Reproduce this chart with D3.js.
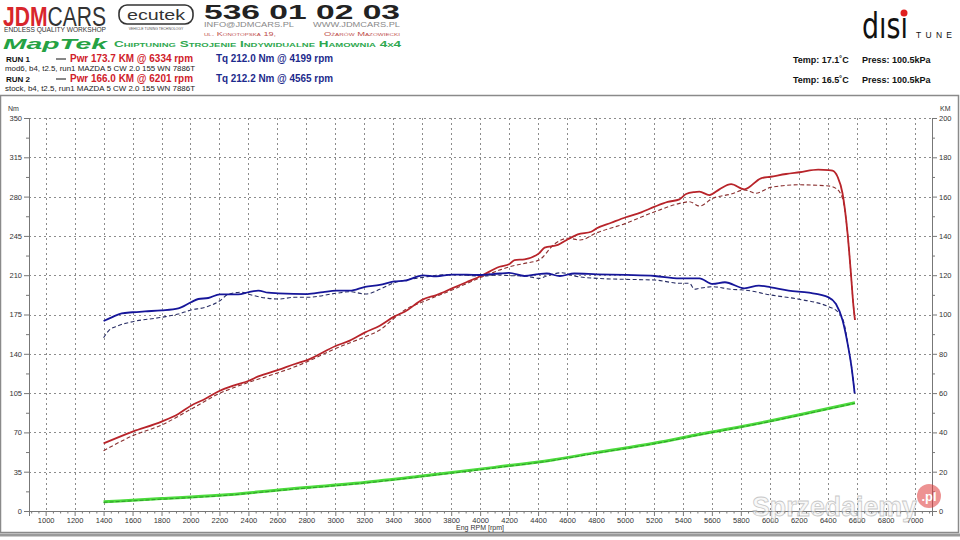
<!DOCTYPE html>
<html>
<head>
<meta charset="utf-8">
<script src="https://cdn.jsdelivr.net/npm/d3@7"></script>
<style>
  body { margin: 0; background: #fff; }
  svg { display: block; font-family: "Liberation Sans", Arial, sans-serif; }
</style>
</head>
<body>
<svg id="chart_svg" width="960" height="540"></svg>
<script>
// dyno data, [rpm, value]
var run1Tq = [[1400,169.2],[1456,172.5],[1525,176],[1600,177],[1686,177.8],[1800,178.7],[1916,180.5],[2003,185.9],
  [2054,188.8],[2123,189.7],[2203,193],[2330,193],[2403,195],[2468,196.2],[2537,194.4],[2606,193.9],[2806,193.2],
  [2916,195],[3006,196.2],[3100,196.2],[3206,199.7],[3307,201.3],[3406,204.5],[3479,205.1],[3606,209.9],[3698,209],
  [3806,210.5],[3905,210.5],[4006,210.2],[4134,211.5],[4199,212.0],[4307,209.3],[4406,211],[4460,211.5],[4550,209.3],
  [4650,211.5],[4806,210.8],[5006,210.2],[5206,209.3],[5376,207.2],[5514,207.2],[5606,202.2],[5690,203.7],[5824,198.3],
  [5925,200.7],[6006,199.2],[6130,196.2],[6270,194.4],[6406,190.3],[6457,184.3],[6502,170.1],[6537,149.3],[6564,128.5],[6586,104.8]];
var run2Tq = [[1400,154.3],[1433,160.3],[1500,165],[1601,168.6],[1801,172.5],[1916,175.4],[2003,179],[2100,181.4],
  [2203,187.3],[2261,193],[2353,194.8],[2403,193],[2537,189.4],[2606,188.8],[2721,190.3],[2806,190.3],[3006,193.9],
  [3100,195.3],[3210,193.2],[3307,197.4],[3406,203.3],[3514,206.3],[3606,208.1],[3698,209.9],[3806,210.5],[4006,209.3],
  [4134,210.2],[4203,209.6],[4307,209.3],[4406,207.2],[4460,209.3],[4565,212.2],[4650,209.3],[4806,207.2],[5006,206.3],
  [5206,205.7],[5376,202.8],[5445,202.8],[5480,197.5],[5514,198.3],[5606,199.7],[5733,197.4],[5824,196.8],[6006,192.4],
  [6206,188.5],[6406,181.9],[6468,177.5],[6510,168.5],[6540,148],[6566,127],[6586,104.8]];
var run1Pwr = [[1400,34.4],[1601,40.4],[1801,45.5],[1916,49.4],[2003,53.6],[2100,57],[2203,61.2],[2307,64.1],[2403,66.3],
  [2468,68.5],[2606,71.8],[2721,74.8],[2806,76.8],[3006,84.1],[3100,86.7],[3206,90.9],[3307,94.3],[3406,98.9],[3479,101.4],
  [3606,107.7],[3698,109.9],[3806,113.3],[3905,116.4],[4006,119.6],[4134,124.3],[4203,125.7],[4238,127.7],[4307,128.1],
  [4406,131.1],[4445,134],[4537,135.4],[4606,138.3],[4674,140.8],[4767,142.1],[4806,143.9],[4905,146.7],[5006,149.5],
  [5112,152],[5206,154.9],[5295,157.3],[5376,158.6],[5422,161.3],[5479,162.3],[5514,162.5],[5583,160.8],[5652,163.7],
  [5733,166.3],[5824,163.7],[5939,169.3],[6006,170.1],[6112,171.5],[6206,172.4],[6334,173.7],[6406,173.5],[6433,173.2],
  [6468,170.1],[6502,161.7],[6537,141.3],[6560,121],[6576,105.7],[6588,97.2]];
var run2Pwr = [[1400,30.7],[1601,38.3],[1801,43.8],[2003,51.8],[2203,59.9],[2403,65.5],[2606,70.4],[2700,72.8],[2806,76],
  [3006,82.8],[3206,88.7],[3307,92.1],[3406,98.1],[3479,102.3],[3606,106.5],[3806,112.5],[4006,118.9],[4134,122.6],
  [4203,124.3],[4307,126],[4406,127.7],[4514,135.9],[4606,138.8],[4691,137.9],[4806,141.6],[5006,146.4],[5206,152.3],
  [5400,156.9],[5445,157.4],[5514,155.2],[5606,159.1],[5733,161.3],[5824,163.4],[5905,161.7],[6006,164.7],[6201,166.0],
  [6406,165.4],[6457,164.2],[6502,159.1],[6537,141.3],[6560,121],[6576,105.7],[6588,97.2]];
var run1Loss = [[1400,4.7],[1800,6.3],[2200,8.0],[2700,11.3],[3200,14.5],[3600,17.8],[4100,22.2],[4500,26.0],[4800,29.7],
  [5200,34.5],[5500,38.8],[6000,45.8],[6300,50.5],[6588,55.1]];
var run2Loss = [[1400,4.4],[1800,6.0],[2200,7.7],[2700,11.0],[3200,14.2],[3600,17.5],[4100,21.9],[4500,25.7],[4800,29.4],
  [5200,34.2],[5500,38.5],[6000,45.5],[6300,50.2],[6588,54.8]];

var rpmTicks = d3.range(1000, 7001, 200);
var nmTicks = [0, 35, 70, 105, 140, 175, 210, 245, 280, 315, 350];
var kmTicks = [0, 20, 40, 60, 80, 100, 120, 140, 160, 180, 200];

var runLabels = [
  { run: "RUN 1", pwr: "Pwr  173.7 KM @ 6334 rpm", tq: "Tq 212.0 Nm @ 4199 rpm",
    note: "mod6, b4, t2.5, run1 MAZDA 5 CW 2.0 155 WN 7886T", temp: "Temp: 17.1˚C", press: "Press: 100.5kPa" },
  { run: "RUN 2", pwr: "Pwr  166.0 KM @ 6201 rpm", tq: "Tq 212.2 Nm @ 4565 rpm",
    note: "stock, b4, t2.5, run1 MAZDA 5 CW 2.0 155 WN 7886T", temp: "Temp: 16.5˚C", press: "Press: 100.5kPa" }
];

function drawHeader(svg) {
  var g = svg.append("g");
  // JDMCARS logo
  var jdm = g.append("text").attr("x", 3).attr("y", 25.5).attr("font-size", 27)
    .attr("font-family", "'Liberation Sans Narrow', 'Liberation Sans', sans-serif");
  jdm.append("tspan").attr("fill", "#d8262c").attr("font-weight", "bold").text("JDM");
  jdm.append("tspan").attr("fill", "#333").text("CARS");
  jdm.attr("textLength", 103).attr("lengthAdjust", "spacingAndGlyphs");
  g.append("text").attr("x", 4).attr("y", 31.5).attr("font-size", 7.5).attr("fill", "#333")
    .attr("textLength", 102).attr("lengthAdjust", "spacingAndGlyphs").text("ENDLESS QUALITY WORKSHOP");

  // ecutek box
  g.append("rect").attr("x", 119).attr("y", 5).attr("width", 74).attr("height", 19).attr("rx", 8)
    .attr("fill", "none").attr("stroke", "#333").attr("stroke-width", 1.6);
  g.append("text").attr("x", 156).attr("y", 20).attr("text-anchor", "middle").attr("font-size", 14)
    .attr("fill", "#333").attr("textLength", 58).attr("lengthAdjust", "spacingAndGlyphs").text("ecutek");
  g.append("text").attr("x", 156).attr("y", 29.5).attr("text-anchor", "middle").attr("font-size", 3.5)
    .attr("fill", "#555").text("VEHICLE TUNING TECHNOLOGY");

  // phone + contact
  g.append("text").attr("x", 204).attr("y", 18.5).attr("font-size", 21).attr("font-weight", "bold")
    .attr("fill", "#222").attr("textLength", 196).attr("lengthAdjust", "spacingAndGlyphs").text("536 01 02 03");
  g.append("text").attr("x", 204).attr("y", 27).attr("font-size", 7).attr("fill", "#888")
    .attr("textLength", 90).attr("lengthAdjust", "spacingAndGlyphs").text("INFO@JDMCARS.PL");
  g.append("text").attr("x", 400).attr("y", 27).attr("font-size", 7).attr("fill", "#888").attr("text-anchor", "end")
    .attr("textLength", 87).attr("lengthAdjust", "spacingAndGlyphs").text("WWW.JDMCARS.PL");
  g.append("text").attr("x", 204).attr("y", 36).attr("font-size", 6).attr("fill", "#c0504d")
    .style("font-variant", "small-caps").attr("textLength", 72).attr("lengthAdjust", "spacingAndGlyphs").text("ul. Konotopska 19,");
  g.append("text").attr("x", 400).attr("y", 36).attr("font-size", 6).attr("fill", "#c0504d").attr("text-anchor", "end")
    .style("font-variant", "small-caps").attr("textLength", 76).attr("lengthAdjust", "spacingAndGlyphs").text("Ożarów Mazowiecki");

  // maptek strip
  g.append("text").attr("x", 3).attr("y", 48.5).attr("font-size", 15.5).attr("font-weight", "bold").attr("font-style", "italic")
    .attr("fill", "#25a244").attr("textLength", 104).attr("lengthAdjust", "spacingAndGlyphs").text("MapTek");
  g.append("text").attr("x", 114).attr("y", 47).attr("font-size", 8.5).attr("font-weight", "bold")
    .attr("fill", "#2fa84f").style("font-variant", "small-caps")
    .attr("textLength", 287).attr("lengthAdjust", "spacingAndGlyphs")
    .text("Chiptuning Strojenie Indywidualne Hamownia 4x4");

  // disi tune logo
  g.append("text").attr("x", 862).attr("y", 38).attr("font-size", 36).attr("fill", "#111")
    .attr("font-family", "'DejaVu Sans Condensed', 'Liberation Sans Narrow', sans-serif")
    .attr("textLength", 46).attr("lengthAdjust", "spacingAndGlyphs").text("dısı");
  g.append("circle").attr("cx", 904).attr("cy", 13).attr("r", 3.5).attr("fill", "#e02020");
  g.append("text").attr("x", 916).attr("y", 38).attr("font-size", 8.5).attr("fill", "#111")
    .attr("textLength", 36).attr("lengthAdjust", "spacing").text("TUNE");

  // run legend
  runLabels.forEach(function (r, i) {
    var y0 = 62 + i * 20;
    g.append("text").attr("x", 6).attr("y", y0).attr("font-size", 8).attr("font-weight", "bold").attr("fill", "#111").text(r.run);
    g.append("line").attr("x1", 56).attr("x2", 66).attr("y1", y0 - 3).attr("y2", y0 - 3).attr("stroke", "#111").attr("stroke-width", 1);
    g.append("text").attr("x", 70).attr("y", y0).attr("font-size", 10).attr("font-weight", "bold").attr("fill", "#d0202a")
      .attr("textLength", 123).attr("lengthAdjust", "spacingAndGlyphs").text(r.pwr);
    g.append("text").attr("x", 216).attr("y", y0).attr("font-size", 10).attr("font-weight", "bold").attr("fill", "#1c2a8c")
      .attr("textLength", 117).attr("lengthAdjust", "spacingAndGlyphs").text(r.tq);
    g.append("text").attr("x", 5).attr("y", y0 + 8.5).attr("font-size", 7.5).attr("fill", "#222")
      .attr("textLength", 190).attr("lengthAdjust", "spacingAndGlyphs").text(r.note);
    g.append("text").attr("x", 793).attr("y", y0 + 1).attr("font-size", 9).attr("font-weight", "bold").attr("fill", "#111").text(r.temp);
    g.append("text").attr("x", 862).attr("y", y0 + 1).attr("font-size", 9).attr("font-weight", "bold").attr("fill", "#111").text(r.press);
  });
}

function drawChart() {
  var svg = d3.select("#chart_svg");

  // frame lines round the plot panel
  svg.append("rect").attr("x", 0.5).attr("y", 95.5).attr("width", 958).attr("height", 437)
    .attr("fill", "none").attr("stroke", "#8a8a8a").attr("stroke-width", 1.5);
  svg.append("line").attr("x1", 0).attr("x2", 960).attr("y1", 535).attr("y2", 535).attr("stroke", "#9a9a9a").attr("stroke-width", 3);

  drawHeader(svg);

  var plotLeft = 29, plotRight = 932, plotTop = 118, plotBottom = 511;
  var x = d3.scaleLinear().domain([885, 7120]).range([plotLeft, plotRight]);
  var yNm = d3.scaleLinear().domain([0, 350]).range([plotBottom, plotTop]);
  var yKm = d3.scaleLinear().domain([0, 200]).range([plotBottom, plotTop]);

  // dotted grid
  var grid = svg.append("g").attr("stroke", "#8c8c8c").attr("stroke-width", 1).attr("stroke-dasharray", "2,3");
  grid.selectAll("line.v").data(rpmTicks).enter().append("line")
    .attr("x1", d => Math.round(x(d)) + 0.5).attr("x2", d => Math.round(x(d)) + 0.5)
    .attr("y1", plotTop).attr("y2", plotBottom);
  grid.selectAll("line.h").data(nmTicks.slice(1)).enter().append("line")
    .attr("x1", plotLeft).attr("x2", plotRight)
    .attr("y1", d => Math.round(yNm(d)) + 0.5).attr("y2", d => Math.round(yNm(d)) + 0.5);

  // axes
  var axisColor = "#777";
  svg.append("g").attr("transform", "translate(" + plotLeft + ",0)")
    .call(d3.axisLeft(yNm).tickValues(nmTicks).tickSize(5).tickPadding(2));
  svg.append("g").attr("transform", "translate(" + plotLeft + ",0)")
    .call(d3.axisLeft(yNm).tickValues(d3.range(17.5, 350, 35)).tickSize(3).tickFormat(""));
  svg.append("g").attr("transform", "translate(" + plotRight + ",0)")
    .call(d3.axisRight(yKm).tickValues(kmTicks).tickSize(5).tickPadding(2));
  svg.append("g").attr("transform", "translate(" + plotRight + ",0)")
    .call(d3.axisRight(yKm).tickValues(d3.range(10, 200, 20)).tickSize(3).tickFormat(""));
  svg.append("g").attr("transform", "translate(0," + plotBottom + ")")
    .call(d3.axisBottom(x).tickValues(rpmTicks).tickSize(5).tickPadding(2).tickFormat(d3.format("d")));
  svg.append("g").attr("transform", "translate(0," + plotBottom + ")")
    .call(d3.axisBottom(x).tickValues(d3.range(900, 7101, 50).filter(d => d % 200 != 0)).tickSize(2.5).tickFormat(""));

  svg.selectAll(".domain").attr("stroke", axisColor);
  svg.selectAll(".tick line").attr("stroke", axisColor);
  svg.selectAll(".tick text").attr("fill", "#333").style("font-size", "7.5px")
    .style("font-family", "'Liberation Sans', Arial, sans-serif");

  svg.append("text").attr("x", 8).attr("y", 111).attr("font-size", 7).attr("fill", "#333").text("Nm");
  svg.append("text").attr("x", 940).attr("y", 111).attr("font-size", 7).attr("fill", "#333").text("KM");
  svg.append("text").attr("x", 480).attr("y", 530).attr("text-anchor", "middle").attr("font-size", 7)
    .attr("fill", "#333").text("Eng RPM [rpm]");

  // curves
  var lineNm = d3.line().x(d => x(d[0])).y(d => yNm(d[1])).curve(d3.curveMonotoneX);
  var lineKm = d3.line().x(d => x(d[0])).y(d => yKm(d[1])).curve(d3.curveMonotoneX);
  var curves = svg.append("g").attr("fill", "none").attr("stroke-linejoin", "round");

  curves.append("path").attr("d", lineKm(run1Loss)).attr("stroke", "#4cdc3c").attr("stroke-width", 3);
  curves.append("path").attr("d", lineKm(run2Loss)).attr("stroke", "#2f9a2a").attr("stroke-width", 1).attr("stroke-dasharray", "4,2");

  curves.append("path").attr("d", lineKm(run2Pwr)).attr("stroke", "#8a3030").attr("stroke-width", 1.1).attr("stroke-dasharray", "4,2.5");
  curves.append("path").attr("d", lineNm(run2Tq)).attr("stroke", "#2a2f66").attr("stroke-width", 1.1).attr("stroke-dasharray", "4,2.5");
  curves.append("path").attr("d", lineKm(run1Pwr)).attr("stroke", "#b8242a").attr("stroke-width", 1.8);
  curves.append("path").attr("d", lineNm(run1Tq)).attr("stroke", "#16169a").attr("stroke-width", 1.8);

  // sprzedajemy watermark
  var wm = svg.append("g").attr("opacity", 0.55);
  wm.append("text").attr("x", 752).attr("y", 516).attr("font-size", 27).attr("font-weight", "bold")
    .attr("fill", "#f4f4f4").attr("stroke", "#9a9a9a").attr("stroke-width", 0.8)
    .attr("textLength", 165).attr("lengthAdjust", "spacingAndGlyphs").text("Sprzedajemy");
  wm.append("circle").attr("cx", 929).attr("cy", 496).attr("r", 12).attr("fill", "#e03a3a");
  wm.append("text").attr("x", 929).attr("y", 501).attr("text-anchor", "middle").attr("font-size", 13)
    .attr("font-weight", "bold").attr("fill", "#fff").text(".pl");
}

drawChart();
</script>
</body>
</html>
